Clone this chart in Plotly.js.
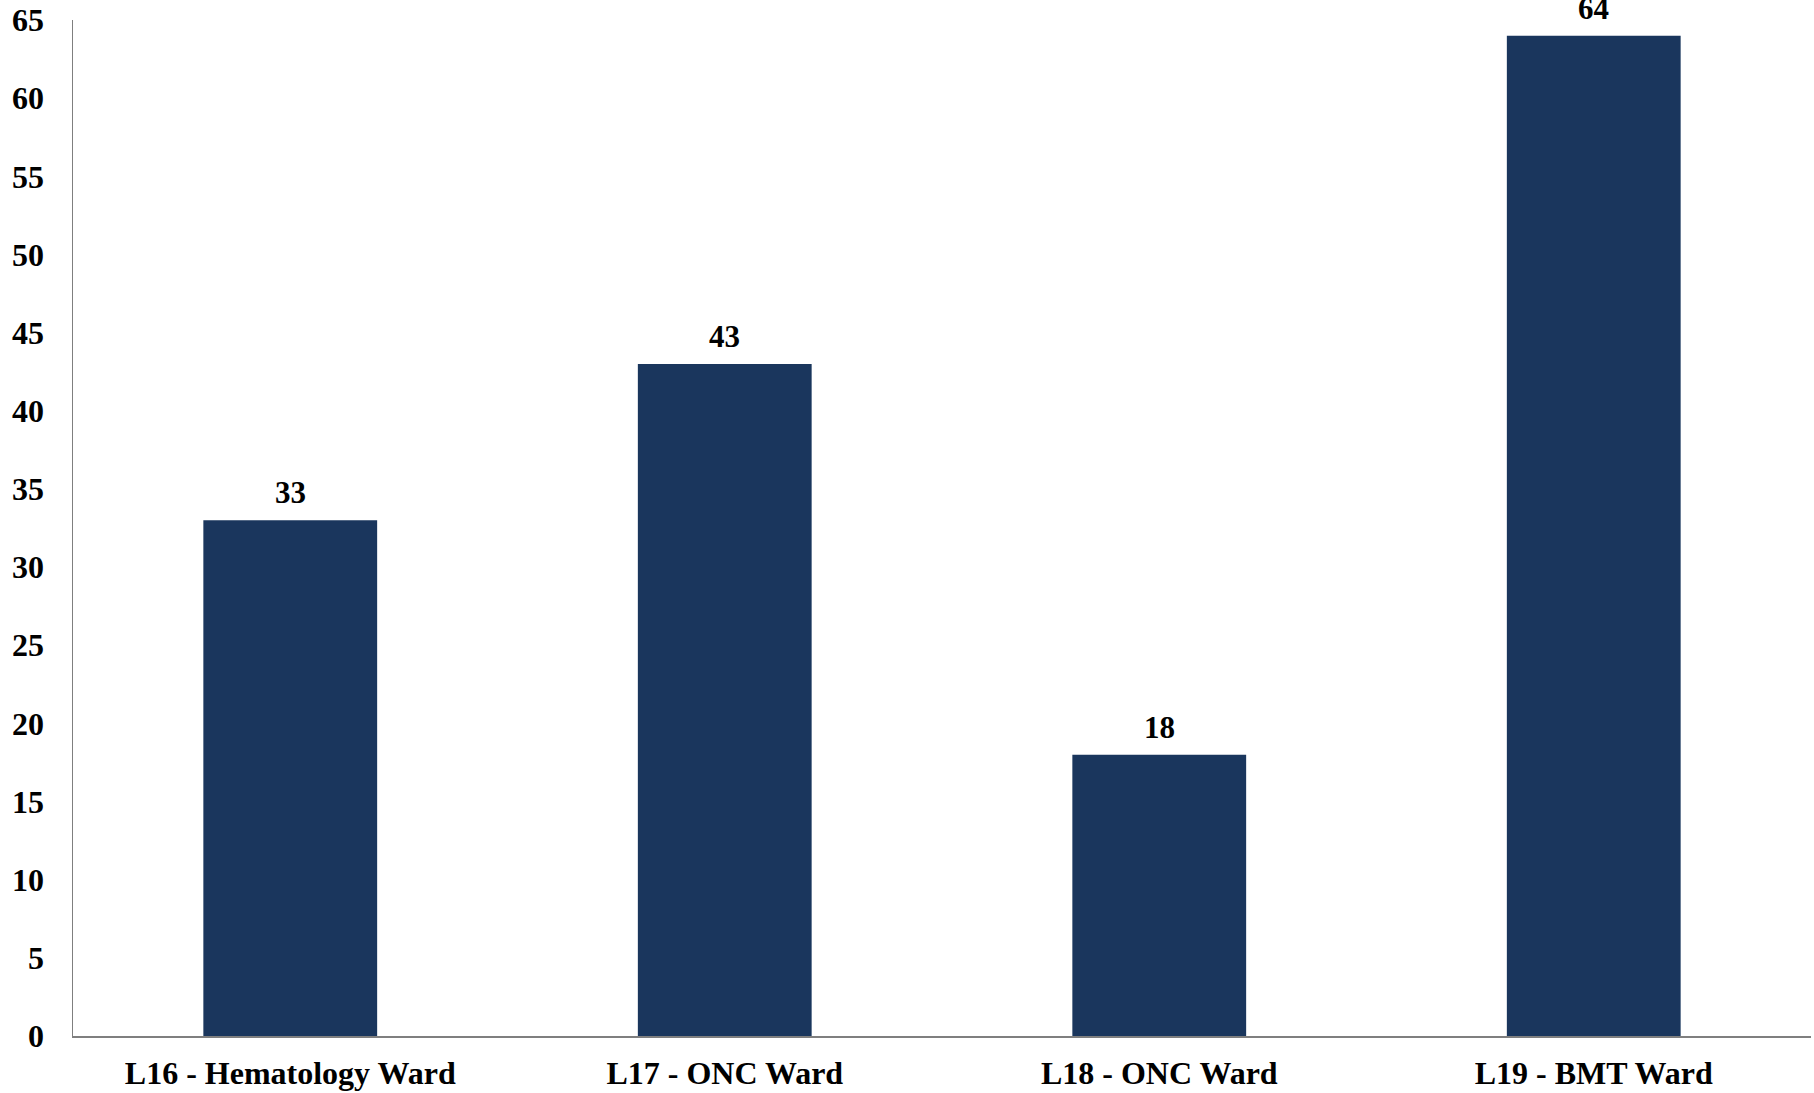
<!DOCTYPE html>
<html>
<head>
<meta charset="utf-8">
<script src="https://cdn.plot.ly/plotly-3.0.1.min.js"></script>
<style>html,body{margin:0;padding:0;background:#fff;}#chart{width:1814px;height:1093px;}</style>
</head>
<body>
<div id="chart"></div>
<script>
const categories = ["L16 - Hematology Ward", "L17 - ONC Ward", "L18 - ONC Ward", "L19 - BMT Ward"];
const values = [33, 43, 18, 64];
const yTicks = [0, 5, 10, 15, 20, 25, 30, 35, 40, 45, 50, 55, 60, 65];

const fontFamily = '"Liberation Serif", "Times New Roman", serif';

const trace = {
  type: 'bar',
  x: categories,
  y: values,
  marker: {color: '#1a365d'},
  hoverinfo: 'x+y'
};

const annotations = categories.map((c, i) => ({
  x: c,
  y: values[i],
  xref: 'x',
  yref: 'y',
  text: String(values[i]),
  showarrow: false,
  yanchor: 'bottom',
  yshift: 8,
  font: {family: fontFamily, size: 31, color: '#000', weight: 700}
}));

const layout = {
  width: 1814,
  height: 1093,
  margin: {l: 72.5, r: 3, t: 20, b: 57.3},
  paper_bgcolor: '#ffffff',
  plot_bgcolor: '#ffffff',
  showlegend: false,
  bargap: 0.6,
  font: {family: fontFamily, color: '#000'},
  xaxis: {
    showline: true,
    linecolor: '#7f7f7f',
    linewidth: 1.5,
    showgrid: false,
    zeroline: false,
    ticks: '',
    ticklabelstandoff: 8,
    tickfont: {family: fontFamily, size: 32, color: '#000', weight: 700}
  },
  yaxis: {
    range: [0, 65],
    tickvals: yTicks,
    ticktext: yTicks.map(String),
    showline: true,
    linecolor: '#7f7f7f',
    linewidth: 1.5,
    showgrid: false,
    zeroline: false,
    ticks: '',
    ticklabelstandoff: 21,
    tickfont: {family: fontFamily, size: 32, color: '#000', weight: 700}
  },
  annotations: annotations
};

Plotly.newPlot('chart', [trace], layout, {displayModeBar: false, staticPlot: true});
</script>
</body>
</html>
